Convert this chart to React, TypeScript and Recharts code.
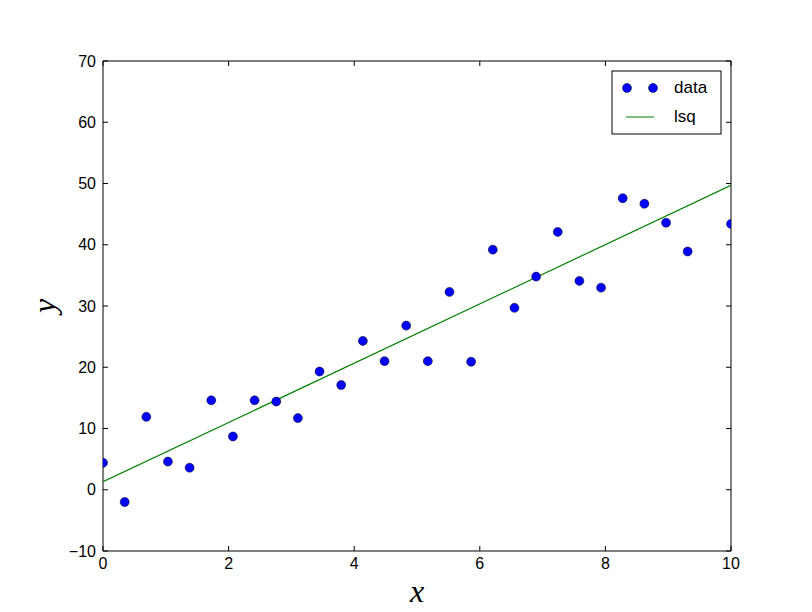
import { ComposedChart, Scatter, XAxis, YAxis, Label, ReferenceArea } from 'recharts';

// sample positions (linspace 0..10, the point near x=9.66 sits behind the legend)
const xValues = [
  0, 0.345, 0.69, 1.034, 1.379, 1.724, 2.069, 2.414, 2.759, 3.103,
  3.448, 3.793, 4.138, 4.483, 4.828, 5.172, 5.517, 5.862, 6.207, 6.552,
  6.897, 7.241, 7.586, 7.931, 8.276, 8.621, 8.966, 9.31, 10,
];
const yValues = [
  4.4, -2.0, 11.9, 4.6, 3.6, 14.6, 8.7, 14.6, 14.4, 11.7,
  19.3, 17.1, 24.3, 21.0, 26.8, 21.0, 32.3, 20.9, 39.2, 29.7,
  34.8, 42.1, 34.1, 33.0, 47.6, 46.7, 43.6, 38.9, 43.4,
];
const fitX = [0, 10];
const fitY = [1.3, 49.7];
const seriesNames = ['data', 'lsq'];
const xTicks = [0, 2, 4, 6, 8, 10];
const yTicks = [-10, 0, 10, 20, 30, 40, 50, 60, 70];

const points = xValues.map((x, i) => ({ x, y: yValues[i] }));
const fitLine = fitX.map((x, i) => ({ x, y: fitY[i] }));

const FONT = '"Liberation Sans", Arial, sans-serif';
const MATH = '"Liberation Serif", "DejaVu Serif", serif';
const TICK = 5;
// plot frame (set by the chart margins and axis sizes below)
const TOP = 61;
const BOTTOM = 551;
const LEFT = 103;
const RIGHT = 731;

const fmt = (v: number) => (v < 0 ? '\u2212' + Math.abs(v) : String(v));

// draws bottom + top inward ticks and the label
const XTick = (props: any) => {
  const { x, payload } = props;
  return (
    <g>
      <line x1={x} y1={BOTTOM} x2={x} y2={BOTTOM - TICK} stroke="#000" />
      <line x1={x} y1={TOP} x2={x} y2={TOP + TICK} stroke="#000" />
      <text x={x} y={BOTTOM + 18} textAnchor="middle" fontSize={16} fontFamily={FONT} fill="#000">
        {fmt(payload.value)}
      </text>
    </g>
  );
};

// draws left + right inward ticks and the label
const YTick = (props: any) => {
  const { y, payload } = props;
  return (
    <g>
      <line x1={LEFT} y1={y} x2={LEFT + TICK} y2={y} stroke="#000" />
      <line x1={RIGHT} y1={y} x2={RIGHT - TICK} y2={y} stroke="#000" />
      <text x={LEFT - 7} y={y + 5.5} textAnchor="end" fontSize={16} fontFamily={FONT} fill="#000">
        {fmt(payload.value)}
      </text>
    </g>
  );
};

// markers are clipped to the axes like matplotlib does
const Dot = (props: any) => {
  const { cx, cy } = props;
  return (
    <circle
      cx={cx}
      cy={cy}
      r={4.5}
      fill="#0000ff"
      stroke="#000"
      strokeWidth={0.5}
      clipPath="url(#plotClip)"
    />
  );
};

const NoShape = () => <g />;

const ClipDefs = () => (
  <svg width={0} height={0} style={{ position: 'absolute', left: 0, top: 0 }}>
    <defs>
      <clipPath id="plotClip" clipPathUnits="userSpaceOnUse">
        <rect x={LEFT} y={TOP} width={RIGHT - LEFT} height={BOTTOM - TOP} />
      </clipPath>
    </defs>
  </svg>
);

const LegendBox = () => (
  <svg
    width={111}
    height={65}
    style={{ position: 'absolute', left: 611, top: 70 }}
  >
    <rect x={1} y={1} width={109} height={63} fill="#fff" stroke="#000" strokeWidth={1} />
    <circle cx={16} cy={18} r={4.5} fill="#0000ff" stroke="#000" strokeWidth={0.5} />
    <circle cx={42} cy={18} r={4.5} fill="#0000ff" stroke="#000" strokeWidth={0.5} />
    <text x={63} y={23} fontSize={17} fontFamily={FONT} fill="#000">{seriesNames[0]}</text>
    <line x1={15} y1={47} x2={43} y2={47} stroke="#008000" strokeWidth={1} />
    <text x={63} y={52} fontSize={17} fontFamily={FONT} fill="#000">{seriesNames[1]}</text>
  </svg>
);

export default function App() {
  return (
    <div style={{ position: 'absolute', left: 0, top: 0, width: 812, height: 612, background: '#fff' }}>
      <ClipDefs />
      <ComposedChart
        width={812}
        height={612}
        margin={{ top: TOP, right: 812 - RIGHT, bottom: 0, left: 0 }}
      >
        <XAxis
          type="number"
          dataKey="x"
          domain={[0, 10]}
          ticks={xTicks}
          allowDataOverflow
          height={612 - BOTTOM}
          axisLine={false}
          tickLine={false}
          tick={<XTick />}
        >
          <Label
            content={(p: any) => (
              <text
                x={p.viewBox.x + p.viewBox.width / 2}
                y={BOTTOM + 51}
                textAnchor="middle"
                fontSize={32}
                fontStyle="italic"
                fontFamily={MATH}
                fill="#000"
              >
                x
              </text>
            )}
          />
        </XAxis>
        <YAxis
          type="number"
          dataKey="y"
          domain={[-10, 70]}
          ticks={yTicks}
          allowDataOverflow
          width={LEFT}
          axisLine={false}
          tickLine={false}
          tick={<YTick />}
        >
          <Label
            content={(p: any) => {
              const cx = 55;
              const cy = p.viewBox.y + p.viewBox.height / 2;
              return (
                <text
                  x={cx}
                  y={cy}
                  transform={`rotate(-90, ${cx}, ${cy})`}
                  textAnchor="middle"
                  fontSize={32}
                  fontStyle="italic"
                  fontFamily={MATH}
                  fill="#000"
                >
                  y
                </text>
              );
            }}
          />
        </YAxis>
        <Scatter
          name={seriesNames[1]}
          data={fitLine}
          line={{ stroke: '#008000', strokeWidth: 1.2 }}
          shape={<NoShape />}
          isAnimationActive={false}
        />
        <Scatter
          name={seriesNames[0]}
          data={points}
          shape={<Dot />}
          isAnimationActive={false}
        />
        <ReferenceArea
          x1={0}
          x2={10}
          y1={-10}
          y2={70}
          fill="none"
          fillOpacity={0}
          stroke="#000"
          strokeWidth={1}
          strokeOpacity={1}
        />
      </ComposedChart>
      <LegendBox />
    </div>
  );
}
